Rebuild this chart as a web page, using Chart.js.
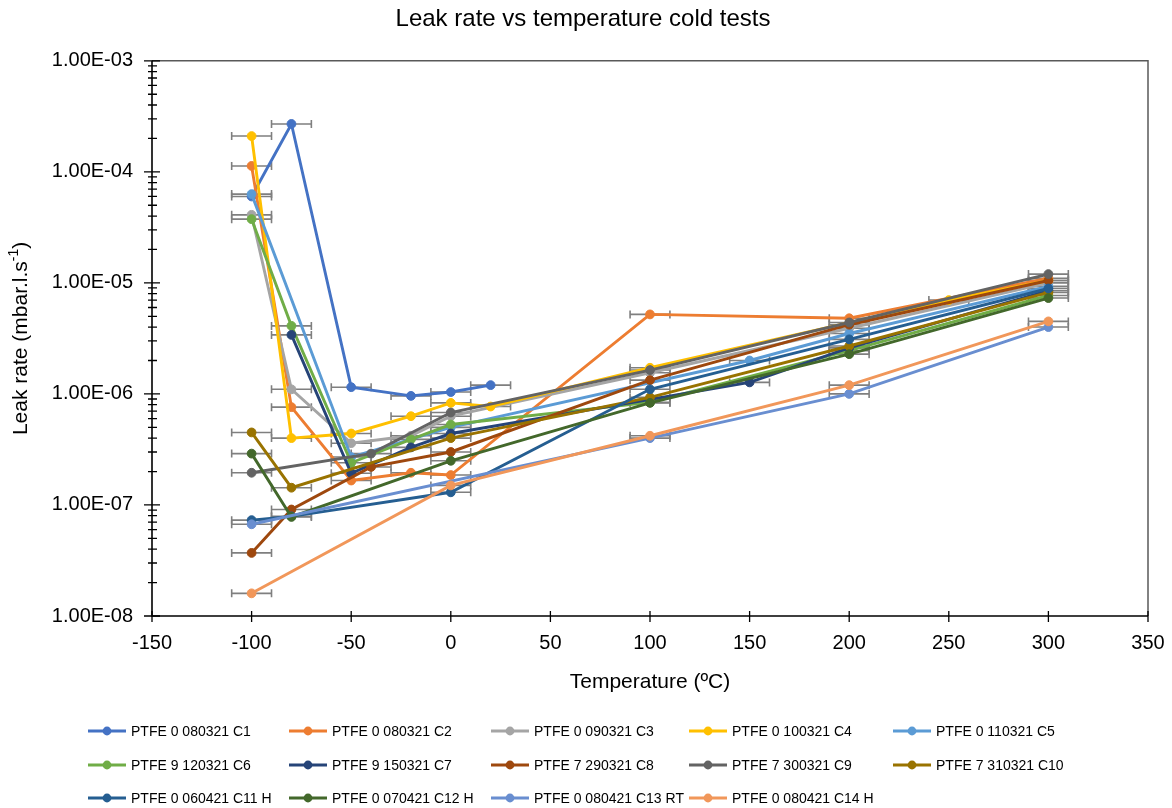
<!DOCTYPE html>
<html><head><meta charset="utf-8">
<script src="https://cdn.jsdelivr.net/npm/chart.js@4.4.1/dist/chart.umd.min.js"></script>
<style>html,body{margin:0;padding:0;background:#fff}canvas{display:block}</style>
</head><body>
<canvas id="c" width="1172" height="808"></canvas>
<script>
// ---- data ----
const seriesNames = [
  'PTFE 0 080321 C1','PTFE 0 080321 C2','PTFE 0 090321 C3','PTFE 0 100321 C4','PTFE 0 110321 C5',
  'PTFE 9 120321 C6','PTFE 9 150321 C7','PTFE 7 290321 C8','PTFE 7 300321 C9','PTFE 7 310321 C10',
  'PTFE 0 060421 C11 H','PTFE 0 070421 C12 H','PTFE 0 080421 C13 RT','PTFE 0 080421 C14 H'
];
const seriesColors = ['#4472C4','#ED7D31','#A5A5A5','#FFC000','#5B9BD5','#70AD47','#264478',
  '#9E480E','#636363','#997300','#255E91','#43682B','#698ED0','#F1975A'];

const c1Temp = [-100,-80,-50,-20,0,20];
const c1Leak = [6.0e-5,2.7e-4,1.15e-6,9.6e-7,1.04e-6,1.2e-6];
const c2Temp = [-100,-80,-50,-20,0,100,200,300];
const c2Leak = [1.13e-4,7.6e-7,1.66e-7,1.95e-7,1.86e-7,5.2e-6,4.8e-6,1.1e-5];
const c3Temp = [-100,-80,-50,-20,0,100,200,300];
const c3Leak = [4.1e-5,1.1e-6,3.6e-7,4.2e-7,6.3e-7,1.55e-6,3.9e-6,1.0e-5];
const c4Temp = [-100,-80,-50,-20,0,20,100,250,300];
const c4Leak = [2.1e-4,4.0e-7,4.4e-7,6.3e-7,8.3e-7,7.7e-7,1.72e-6,7.0e-6,1.05e-5];
const c5Temp = [-100,-50,0,150,200,300];
const c5Leak = [6.3e-5,2.7e-7,5.0e-7,2.0e-6,3.5e-6,9.3e-6];
const c6Temp = [-100,-80,-50,-20,0,100,200,300];
const c6Leak = [3.75e-5,4.1e-6,2.4e-7,3.9e-7,5.3e-7,8.4e-7,2.45e-6,7.7e-6];
const c7Temp = [-80,-50,-20,0,150,200,300];
const c7Leak = [3.4e-6,1.93e-7,3.3e-7,4.4e-7,1.27e-6,2.6e-6,8.5e-6];
const c8Temp = [-100,-80,-40,0,100,200,300];
const c8Leak = [3.7e-8,9.1e-8,2.2e-7,3.0e-7,1.33e-6,4.2e-6,1.05e-5];
const c9Temp = [-100,-40,0,100,200,300];
const c9Leak = [1.95e-7,2.9e-7,6.8e-7,1.64e-6,4.4e-6,1.2e-5];
const c10Temp = [-100,-80,0,100,200,300];
const c10Leak = [4.5e-7,1.43e-7,4.0e-7,9.3e-7,2.7e-6,8.2e-6];
const c11Temp = [-100,-80,0,100,200,300];
const c11Leak = [7.3e-8,7.9e-8,1.3e-7,1.1e-6,3.1e-6,8.9e-6];
const c12Temp = [-100,-80,0,100,200,300];
const c12Leak = [2.9e-7,7.8e-8,2.5e-7,8.3e-7,2.28e-6,7.3e-6];
const c13Temp = [-100,100,200,300];
const c13Leak = [6.7e-8,4.0e-7,1.0e-6,4.0e-6];
const c14Temp = [-100,0,100,200,300];
const c14Leak = [1.6e-8,1.5e-7,4.2e-7,1.2e-6,4.5e-6];

const seriesTemps = [c1Temp,c2Temp,c3Temp,c4Temp,c5Temp,c6Temp,c7Temp,c8Temp,c9Temp,c10Temp,c11Temp,c12Temp,c13Temp,c14Temp];
const seriesLeaks = [c1Leak,c2Leak,c3Leak,c4Leak,c5Leak,c6Leak,c7Leak,c8Leak,c9Leak,c10Leak,c11Leak,c12Leak,c13Leak,c14Leak];

const tempError = 10; // ±°C horizontal error bars
const yTickValues = [1e-8,1e-7,1e-6,1e-5,1e-4,1e-3];
const yTickLabels = ['1.00E-08','1.00E-07','1.00E-06','1.00E-05','1.00E-04','1.00E-03'];
const xTickValues = [-150,-100,-50,0,50,100,150,200,250,300,350];

const FONT = "'Liberation Sans', Arial, sans-serif";

const datasets = seriesNames.map((name, i) => ({
  label: name,
  data: seriesTemps[i].map((t, k) => ({x: t, y: seriesLeaks[i][k]})),
  borderColor: seriesColors[i],
  backgroundColor: seriesColors[i],
  pointBackgroundColor: seriesColors[i],
  pointBorderColor: seriesColors[i],
  pointRadius: 4.4,
  pointBorderWidth: 1,
  borderWidth: 2.9,
  showLine: true,
  tension: 0,
  order: seriesNames.length - i
}));

const decor = {
  id: 'decor',
  beforeDatasetsDraw(chart) {
    const ctx = chart.ctx, xs = chart.scales.x, ys = chart.scales.y;
    ctx.save();
    ctx.strokeStyle = '#7F7F7F';
    ctx.lineWidth = 1.6;
    chart.data.datasets.forEach(ds => {
      ds.data.forEach(p => {
        const y = ys.getPixelForValue(p.y);
        const x1 = xs.getPixelForValue(p.x - tempError);
        const x2 = xs.getPixelForValue(p.x + tempError);
        ctx.beginPath();
        ctx.moveTo(x1, y); ctx.lineTo(x2, y);
        ctx.moveTo(x1, y - 4); ctx.lineTo(x1, y + 4);
        ctx.moveTo(x2, y - 4); ctx.lineTo(x2, y + 4);
        ctx.stroke();
      });
    });
    ctx.restore();
  },
  afterDraw(chart) {
    const ctx = chart.ctx, a = chart.chartArea, xs = chart.scales.x, ys = chart.scales.y;
    ctx.save();
    // plot border
    ctx.strokeStyle = '#595959';
    ctx.lineWidth = 1.5;
    ctx.beginPath();
    ctx.moveTo(a.left, a.top); ctx.lineTo(a.right, a.top); ctx.lineTo(a.right, a.bottom);
    ctx.stroke();
    // axes
    ctx.strokeStyle = '#000';
    ctx.lineWidth = 1.6;
    ctx.beginPath();
    ctx.moveTo(a.left, a.top); ctx.lineTo(a.left, a.bottom); ctx.lineTo(a.right, a.bottom);
    ctx.stroke();
    // y ticks (major + minor)
    ctx.lineWidth = 1.3;
    ctx.beginPath();
    for (let e = -8; e <= -3; e++) {
      const y = ys.getPixelForValue(Math.pow(10, e));
      ctx.moveTo(a.left - 8, y); ctx.lineTo(a.left + 8, y);
      if (e < -3) {
        for (let m = 2; m <= 9; m++) {
          const ym = ys.getPixelForValue(m * Math.pow(10, e));
          ctx.moveTo(a.left - 4, ym); ctx.lineTo(a.left + 5, ym);
        }
      }
    }
    // x ticks
    xTickValues.forEach(v => {
      const x = xs.getPixelForValue(v);
      ctx.moveTo(x, a.bottom - 5); ctx.lineTo(x, a.bottom + 6);
    });
    ctx.stroke();

    // y axis title with superscript
    ctx.fillStyle = '#000';
    ctx.translate(21, (a.top + a.bottom) / 2);
    ctx.rotate(-Math.PI / 2);
    const mainFont = '21px ' + FONT, supFont = '14px ' + FONT;
    ctx.font = mainFont;
    const p1 = 'Leak rate (mbar.l.s', p3 = ')';
    const w1 = ctx.measureText(p1).width, w3 = ctx.measureText(p3).width;
    ctx.font = supFont;
    const w2 = ctx.measureText('-1').width;
    let xx = -(w1 + w2 + w3) / 2;
    ctx.textBaseline = 'middle';
    ctx.textAlign = 'left';
    ctx.font = mainFont; ctx.fillText(p1, xx, 0); xx += w1;
    ctx.font = supFont; ctx.fillText('-1', xx, -7); xx += w2;
    ctx.font = mainFont; ctx.fillText(p3, xx, 0);
    ctx.setTransform(1, 0, 0, 1, 0, 0);

    // legend
    const colX = [88, 289, 491, 689, 893];
    const rowY = [731, 765, 798];
    ctx.font = '14px ' + FONT;
    ctx.textBaseline = 'middle';
    ctx.textAlign = 'left';
    chart.data.datasets.forEach((ds, i) => {
      const x0 = colX[i % 5], y0 = rowY[Math.floor(i / 5)];
      ctx.strokeStyle = ds.borderColor;
      ctx.lineWidth = 2.9;
      ctx.beginPath(); ctx.moveTo(x0, y0); ctx.lineTo(x0 + 38, y0); ctx.stroke();
      ctx.fillStyle = ds.borderColor;
      ctx.beginPath(); ctx.arc(x0 + 19, y0, 4.4, 0, Math.PI * 2); ctx.fill();
      ctx.fillStyle = '#000';
      ctx.fillText(ds.label, x0 + 43, y0 + 1);
    });
    ctx.restore();
  }
};

new Chart(document.getElementById('c'), {
  type: 'scatter',
  data: { datasets },
  plugins: [decor],
  options: {
    responsive: false,
    animation: false,
    devicePixelRatio: 1,
    layout: { padding: { left: 0, right: 6, top: 0, bottom: 108 } },
    plugins: {
      legend: { display: false },
      tooltip: { enabled: false },
      title: {
        display: true,
        text: 'Leak rate vs temperature cold tests',
        color: '#000',
        font: { family: FONT, size: 24, weight: 'normal' },
        padding: { top: 5, bottom: 27 }
      }
    },
    scales: {
      x: {
        type: 'linear',
        min: -150, max: 350,
        afterBuildTicks: s => { s.ticks = xTickValues.map(v => ({ value: v })); },
        ticks: { color: '#000', font: { family: FONT, size: 20 }, padding: 15, autoSkip: false, maxRotation: 0 },
        grid: { display: false, drawTicks: false },
        border: { display: false },
        title: { display: true, text: 'Temperature (ºC)', color: '#000', font: { family: FONT, size: 21 }, padding: { top: 4, bottom: 5 } },
        afterFit: s => { s.height = 84; s.paddingLeft = 0; s.paddingRight = 24; }
      },
      y: {
        type: 'logarithmic',
        min: 1e-8, max: 1e-3,
        afterBuildTicks: s => { s.ticks = yTickValues.map(v => ({ value: v, major: true })); },
        ticks: {
          color: '#000', font: { family: FONT, size: 20 }, padding: 19, autoSkip: false,
          callback: v => { const k = yTickValues.findIndex(t => Math.abs(Math.log10(t) - Math.log10(v)) < 1e-6); return k >= 0 ? yTickLabels[k] : ''; }
        },
        grid: { display: false, drawTicks: false },
        border: { display: false },
        afterFit: s => { s.width = 152; s.paddingTop = 0; s.paddingBottom = 0; }
      }
    }
  }
});
</script>
</body></html>
